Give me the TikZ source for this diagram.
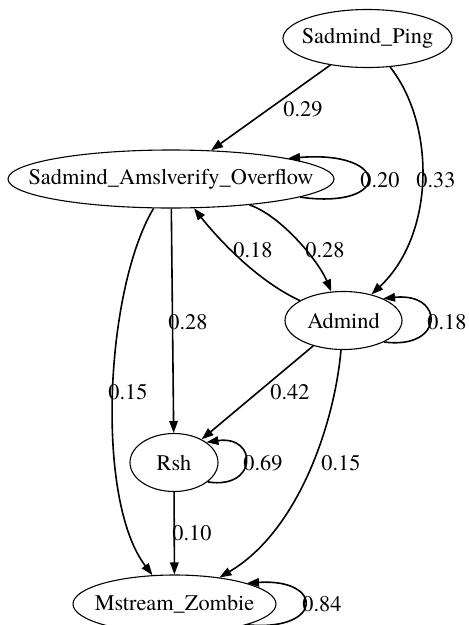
\documentclass[tikz,border=0pt]{standalone}
\usepackage{fontspec}
\setmainfont{texgyretermes}[Extension=.otf,UprightFont=*-regular]
\usetikzlibrary{arrows.meta,shapes.geometric}
\tikzset{
  st/.style={ellipse,draw,line width=1.1pt,inner sep=0pt,minimum height=58pt},
  tr/.style={line width=1.6pt,-{Triangle[length=12pt,width=8.5pt]}},
  lb/.style={inner sep=0pt}
}
\newcommand{\nm}[1]{\makebox[0pt]{#1}}

\begin{document}
\begin{tikzpicture}[x=1pt,y=-1pt,font=\rmfamily\fontsize{22.3}{27}\selectfont]
\useasboundingbox (0,0) rectangle (469,625);
\node[st,minimum width=169pt] (ping) at (367.5,38.5) {\nm{Sadmind\_Ping}};
\node[st,minimum width=326pt] (amsl) at (171,179) {\nm{Sadmind\_Amslverify\_Overflow}};
\node[st,minimum width=117pt] (admind) at (343.5,320.5) {\nm{Admind}};
\node[st,minimum width=88pt] (rsh) at (174,462.5) {\nm{Rsh}};
\node[st,minimum width=203pt] (zombie) at (174.5,604) {\nm{Mstream\_Zombie}};
\draw[tr] (ping) -- (amsl); \node[lb] (pa) at (303,109) {0.29};
\draw[tr] (ping) .. controls (436,125) and (435,235) .. (admind); \node[lb] (pd) at (436,180) {0.33};
\draw[tr] (amsl.-8) .. controls (392,210) and (392,150) .. (amsl.10); \node[lb] (aa) at (380,180) {0.20};
\draw[tr] (amsl) .. controls (280,215) and (318,260) .. (admind); \node[lb] (ad) at (325,250) {0.28};
\draw[tr] (admind) .. controls (255,280) and (215,235) .. (amsl); \node[lb] (da) at (253,250) {0.18};
\draw[tr] (amsl) -- (rsh); \node[lb] (ar) at (188,322) {0.28};
\draw[tr] (amsl) .. controls (105,290) and (95,500) .. (zombie); \node[lb] (az) at (128,392) {0.15};
\draw[tr] (admind.-28) .. controls (445,350) and (445,292) .. (admind.29); \node[lb] (dd) at (447,322) {0.18};
\draw[tr] (admind) -- (rsh); \node[lb] (dr) at (290,392) {0.42};
\draw[tr] (admind) .. controls (335,420) and (300,530) .. (zombie); \node[lb] (dz) at (341,463) {0.15};
\draw[tr] (rsh.-30) .. controls (258,490) and (258,435) .. (rsh.32); \node[lb] (rr) at (263,463) {0.69};
\draw[tr] (rsh) -- (zombie); \node[lb] (rz) at (192,533) {0.10};
\draw[tr] (zombie.-16) .. controls (324,632) and (324,578) .. (zombie.16); \node[lb] (zz) at (322,604) {0.84};
\end{tikzpicture}
\end{document}
